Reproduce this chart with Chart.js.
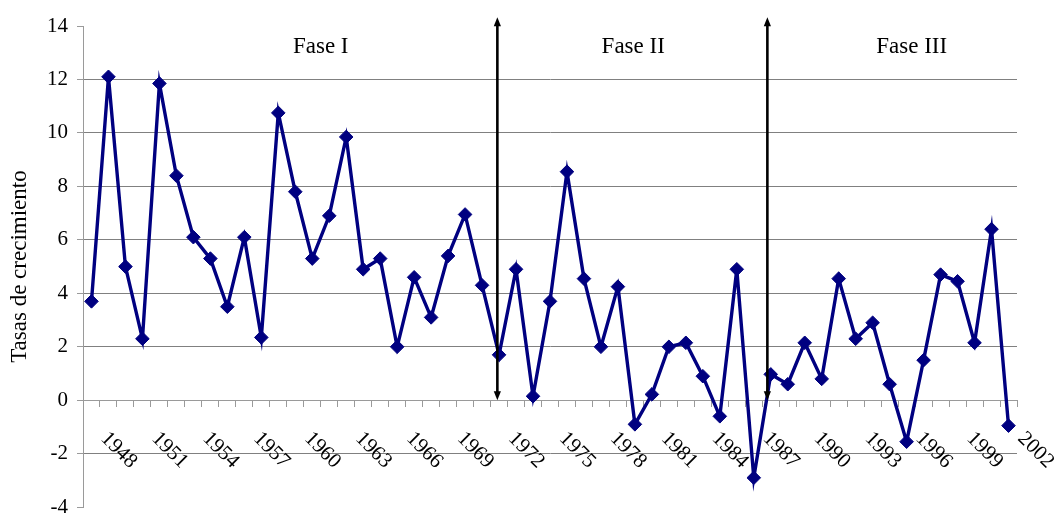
<!DOCTYPE html>
<html>
<head>
<meta charset="utf-8">
<script src="https://cdn.jsdelivr.net/npm/chart.js@4.4.0/dist/chart.umd.min.js"></script>
<style>
  html, body { margin: 0; padding: 0; background: #ffffff; }
  #wrap { width: 1058px; height: 515px; }
</style>
</head>
<body>
<div id="wrap"><canvas id="chart" width="1058" height="515"></canvas></div>
<script>
// Annual growth rates, 1948-2002
const years = [
  '1948','1949','1950','1951','1952','1953','1954','1955','1956','1957',
  '1958','1959','1960','1961','1962','1963','1964','1965','1966','1967',
  '1968','1969','1970','1971','1972','1973','1974','1975','1976','1977',
  '1978','1979','1980','1981','1982','1983','1984','1985','1986','1987',
  '1988','1989','1990','1991','1992','1993','1994','1995','1996','1997',
  '1998','1999','2000','2001','2002'
];
const growthRates = [
  3.7, 12.1, 5.0, 2.3, 11.85, 8.4, 6.1, 5.3, 3.5, 6.1,
  2.35, 10.75, 7.8, 5.3, 6.9, 9.85, 4.9, 5.3, 2.0, 4.6,
  3.1, 5.4, 6.95, 4.3, 1.7, 4.9, 0.15, 3.7, 8.55, 4.55,
  2.0, 4.25, -0.9, 0.22, 2.0, 2.15, 0.9, -0.6, 4.9, -2.9,
  0.97, 0.6, 2.15, 0.8, 4.55, 2.3, 2.9, 0.6, -1.55, 1.5,
  4.7, 4.45, 2.15, 6.4, -0.95
];
const xTickLabels = [
  '1948','1951','1954','1957','1960','1963','1966','1969','1972','1975',
  '1978','1981','1984','1987','1990','1993','1996','1999','2002'
];
const yTickValues = [-4, -2, 0, 2, 4, 6, 8, 10, 12, 14];

// Phase names and the points (category index, growth value) where they sit
const phaseNames = ['Fase I', 'Fase II', 'Fase III'];
const phaseNameIndex = [13.5, 31.9, 48.3];
const phaseNameValue = 13.22;
// Phase boundaries, as category index
const phaseBreakIndex = [23.9, 39.8];
const phaseArrowTop = 14.33;

const SERIF = '"Liberation Serif", "Times New Roman", serif';
const NAVY = '#000080';

const phasePlugin = {
  id: 'phases',
  afterDatasetsDraw(chart) {
    const { ctx } = chart;
    const xs = chart.scales.x, ys = chart.scales.y;
    ctx.save();
    // double-headed arrows between phases
    ctx.strokeStyle = '#000';
    ctx.fillStyle = '#000';
    ctx.lineWidth = 2.6;
    phaseBreakIndex.forEach(idx => {
      const x = xs.getPixelForValue(idx);
      const yTop = ys.getPixelForValue(phaseArrowTop);
      const yBot = ys.getPixelForValue(0);
      ctx.beginPath();
      ctx.moveTo(x, yTop + 8);
      ctx.lineTo(x, yBot - 8);
      ctx.stroke();
      ctx.beginPath();
      ctx.moveTo(x, yTop);
      ctx.lineTo(x - 3.6, yTop + 9);
      ctx.lineTo(x + 3.6, yTop + 9);
      ctx.closePath();
      ctx.fill();
      ctx.beginPath();
      ctx.moveTo(x, yBot);
      ctx.lineTo(x - 3.6, yBot - 9);
      ctx.lineTo(x + 3.6, yBot - 9);
      ctx.closePath();
      ctx.fill();
    });
    // phase names
    ctx.font = '23px ' + SERIF;
    ctx.textAlign = 'center';
    ctx.textBaseline = 'middle';
    phaseNames.forEach((name, i) => {
      ctx.fillText(name, xs.getPixelForValue(phaseNameIndex[i]), ys.getPixelForValue(phaseNameValue));
    });
    // year labels, slanted downwards under the zero line
    ctx.font = '21px ' + SERIF;
    ctx.textAlign = 'left';
    ctx.textBaseline = 'alphabetic';
    const y0 = ys.getPixelForValue(0);
    xTickLabels.forEach(lbl => {
      const idx = years.indexOf(lbl);
      const x = xs.getPixelForValue(idx);
      ctx.save();
      ctx.translate(x + 8.5, y0 + 39);
      ctx.rotate(Math.PI / 4);
      ctx.fillText(lbl, 0, 0);
      ctx.restore();
    });
    ctx.restore();
  }
};

new Chart(document.getElementById('chart'), {
  type: 'line',
  data: {
    labels: years,
    datasets: [{
      data: growthRates,
      borderColor: NAVY,
      backgroundColor: NAVY,
      borderWidth: 3.4,
      tension: 0,
      pointStyle: 'rectRot',
      pointRadius: 6.8,
      pointBorderWidth: 1,
      pointBackgroundColor: NAVY,
      pointBorderColor: NAVY
    }]
  },
  options: {
    responsive: false,
    animation: false,
    devicePixelRatio: 1,
    layout: { padding: { top: 26, right: 41, bottom: 4, left: 0 } },
    plugins: { legend: { display: false }, tooltip: { enabled: false } },
    scales: {
      x: {
        type: 'category',
        offset: true,
        position: { y: 0 },
        afterFit: s => { s.height = 0; s.paddingLeft = 0; s.paddingRight = 0; s.paddingTop = 0; s.paddingBottom = 0; },
        grid: {
          offset: true,
          drawOnChartArea: false,
          drawTicks: true,
          tickLength: 6,
          tickColor: '#9a9a9a',
          color: '#9a9a9a'
        },
        border: { color: '#9a9a9a', width: 1 },
        ticks: { display: false, autoSkip: false }
      },
      y: {
        min: -4,
        max: 14,
        afterBuildTicks: s => { s.ticks = yTickValues.map(v => ({ value: v })); },
        afterFit: s => { s.width = 83; s.paddingTop = 0; s.paddingBottom = 0; },
        ticks: {
          color: '#000',
          font: { family: SERIF, size: 21 },
          padding: 9
        },
        grid: {
          color: c => (c.tick && (c.tick.value === 14 || c.tick.value === -4)) ? 'rgba(0,0,0,0)' : '#808080',
          tickColor: '#9a9a9a',
          tickLength: 6,
          lineWidth: 1
        },
        border: { color: '#9a9a9a', width: 1 },
        title: {
          display: true,
          text: 'Tasas de crecimiento',
          color: '#000',
          font: { family: SERIF, size: 23 },
          padding: { top: 6, bottom: 0 }
        }
      }
    }
  },
  plugins: [phasePlugin]
});
</script>
</body>
</html>
